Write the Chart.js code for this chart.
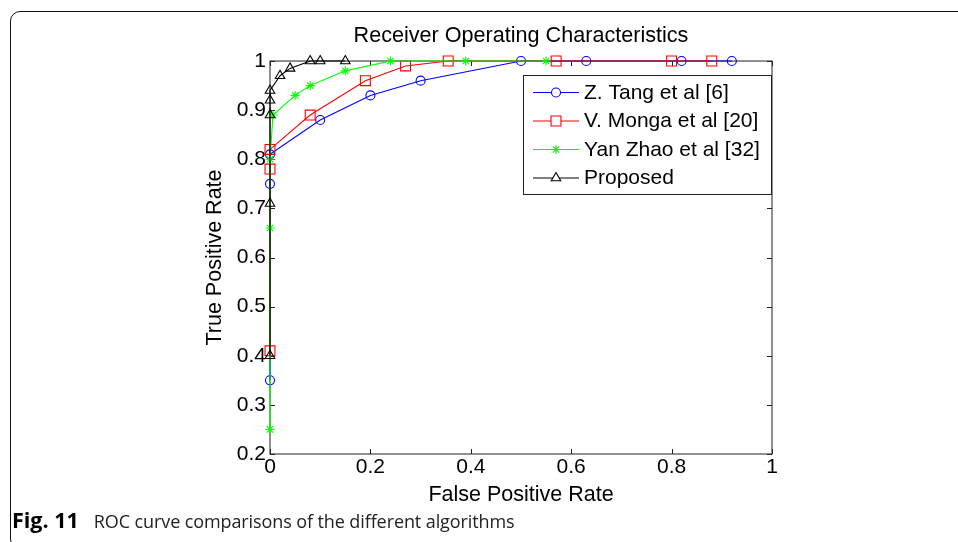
<!DOCTYPE html>
<html>
<head>
<meta charset="utf-8">
<script src="https://cdn.jsdelivr.net/npm/chart.js"></script>
<style>
  html, body { margin: 0; padding: 0; background: #fff; }
  body { width: 958px; height: 542px; position: relative; overflow: hidden; }
  #frame {
    position: absolute; left: 10px; top: 11px; width: 1000px; height: 536px;
    border: 1.3px solid #111; border-radius: 10px;
  }
  #chart { position: absolute; left: 0; top: 0; }
  #caption {
    position: absolute; left: 12px; top: 509px;
    font-family: "Open Sans", "Noto Sans", sans-serif; font-size: 18px; line-height: 22px;
    color: #222; white-space: nowrap; letter-spacing: -0.1px;
  }
  #caption b { color: #000; font-weight: 700; font-size: 21.5px; margin-right: 15px; letter-spacing: 0; }
</style>
</head>
<body>
<div id="frame"></div>
<canvas id="chart" width="958" height="542"></canvas>
<div id="caption"><b>Fig. 11</b>ROC curve comparisons of the different algorithms</div>
<script>
// values
const seriesNames = ['Z. Tang et al [6]', 'V. Monga et al [20]', 'Yan Zhao et al [32]', 'Proposed'];

const tangX = [0, 0, 0, 0.1, 0.2, 0.3, 0.5, 0.63, 0.82, 0.92];
const tangY = [0.35, 0.75, 0.81, 0.88, 0.93, 0.96, 1, 1, 1, 1];

const mongaX = [0, 0, 0, 0.08, 0.19, 0.27, 0.355, 0.57, 0.80, 0.88];
const mongaY = [0.41, 0.78, 0.82, 0.89, 0.96, 0.99, 1, 1, 1, 1];

const zhaoX = [0, 0, 0, 0.006, 0.05, 0.08, 0.15, 0.24, 0.39, 0.55];
const zhaoY = [0.25, 0.66, 0.80, 0.89, 0.93, 0.95, 0.98, 1, 1, 1];

const proposedX = [0, 0, 0, 0, 0, 0.02, 0.04, 0.08, 0.1, 0.15];
const proposedY = [0.40, 0.71, 0.89, 0.92, 0.94, 0.97, 0.985, 1, 1, 1];

const xTicks = [0, 0.2, 0.4, 0.6, 0.8, 1];
const xTickLabels = ['0', '0.2', '0.4', '0.6', '0.8', '1'];
const yTicks = [0.2, 0.3, 0.4, 0.5, 0.6, 0.7, 0.8, 0.9, 1];
const yTickLabels = ['0.2', '0.3', '0.4', '0.5', '0.6', '0.7', '0.8', '0.9', '1'];

const FONT = '"Liberation Sans", Arial, sans-serif';

const toPoints = (xs, ys) => xs.map((x, i) => ({ x: x, y: ys[i] }));

const styles = [
  { color: '#0000ff', pointStyle: 'circle', radius: 4.5 },
  { color: '#ff0000', pointStyle: 'rect', radius: 7 },
  { color: '#00ff00', pointStyle: 'star', radius: 4.5 },
  { color: '#000000', pointStyle: 'triangle', radius: 5.5 },
];
const allData = [toPoints(tangX, tangY), toPoints(mongaX, mongaY), toPoints(zhaoX, zhaoY), toPoints(proposedX, proposedY)];

const datasets = allData.map((d, i) => ({
  label: seriesNames[i],
  data: d,
  showLine: true,
  borderColor: styles[i].color,
  borderWidth: 1.1,
  pointStyle: styles[i].pointStyle,
  pointRadius: styles[i].radius,
  pointBorderColor: styles[i].color,
  pointBackgroundColor: 'rgba(0,0,0,0)',
  pointBorderWidth: 1.1,
  clip: false,
  order: 4 - i, // later series on top, like matlab
}));

// matlab style box, inward ticks and the legend inside the axes
const matlabBox = {
  id: 'matlabBox',
  beforeDatasetsDraw(chart) {
    const { ctx, chartArea: a, scales } = chart;
    ctx.save();
    ctx.strokeStyle = '#222';
    ctx.lineWidth = 1;
    ctx.strokeRect(a.left, a.top, a.right - a.left, a.bottom - a.top);
    const tl = 5;
    ctx.beginPath();
    xTicks.forEach(v => {
      const px = Math.round(scales.x.getPixelForValue(v)) + 0.5;
      ctx.moveTo(px, a.bottom); ctx.lineTo(px, a.bottom - tl);
      ctx.moveTo(px, a.top); ctx.lineTo(px, a.top + tl);
    });
    yTicks.forEach(v => {
      const py = Math.round(scales.y.getPixelForValue(v)) + 0.5;
      ctx.moveTo(a.left, py); ctx.lineTo(a.left + tl, py);
      ctx.moveTo(a.right, py); ctx.lineTo(a.right - tl, py);
    });
    ctx.stroke();
    ctx.restore();
  },
  afterDatasetsDraw(chart) {
    const { ctx } = chart;
    const box = { left: 523, top: 75, right: 772, bottom: 195 };
    ctx.save();
    ctx.fillStyle = '#fff';
    ctx.fillRect(box.left, box.top, box.right - box.left, box.bottom - box.top);
    ctx.strokeStyle = '#222';
    ctx.lineWidth = 1;
    ctx.strokeRect(box.left + 0.5, box.top + 0.5, box.right - box.left - 1, box.bottom - box.top - 1);
    ctx.font = '21px ' + FONT;
    ctx.textBaseline = 'middle';
    const rowY = [92, 120.5, 149, 177.5];
    seriesNames.forEach((name, i) => {
      const y = rowY[i];
      ctx.strokeStyle = styles[i].color;
      ctx.lineWidth = 1.1;
      ctx.beginPath();
      ctx.moveTo(533, y + 0.5); ctx.lineTo(579, y + 0.5);
      ctx.stroke();
      ctx.fillStyle = '#fff';
      Chart.helpers.drawPoint(ctx, {
        pointStyle: styles[i].pointStyle,
        radius: styles[i].radius,
        rotation: 0,
        borderWidth: 1.1,
      }, 556, y + 0.5);
      ctx.fillStyle = '#000';
      ctx.fillText(name, 584, y + 1);
    });
    ctx.restore();
  }
};

new Chart(document.getElementById('chart').getContext('2d'), {
  type: 'scatter',
  data: { datasets: datasets },
  options: {
    responsive: false,
    animation: false,
    devicePixelRatio: 1,
    layout: { padding: { left: 202, right: 186, top: 0, bottom: 34 } },
    plugins: {
      legend: { display: false },
      tooltip: { enabled: false },
      title: {
        display: true,
        text: 'Receiver Operating Characteristics',
        color: '#000',
        font: { family: FONT, size: 21.6, weight: 'normal' },
        padding: { top: 23.5, bottom: 11.6 },
        fullSize: false,
      },
    },
    scales: {
      x: {
        type: 'linear', min: 0, max: 1,
        grid: { display: false, drawTicks: false },
        border: { display: false },
        afterBuildTicks: s => { s.ticks = xTicks.map(v => ({ value: v })); },
        afterFit: s => { s.height = 54; },
        ticks: {
          color: '#000', padding: 1, maxRotation: 0, autoSkip: false,
          font: { family: FONT, size: 21 },
          callback: v => xTickLabels[xTicks.indexOf(v)],
        },
        title: { display: true, text: 'False Positive Rate', color: '#000', padding: 0, font: { family: FONT, size: 21.5 } },
      },
      y: {
        type: 'linear', min: 0.2, max: 1,
        grid: { display: false, drawTicks: false },
        border: { display: false },
        afterBuildTicks: s => { s.ticks = yTicks.map(v => ({ value: v })); },
        afterFit: s => { s.width = 68; },
        ticks: {
          color: '#000', padding: 4, autoSkip: false,
          font: { family: FONT, size: 21 },
          callback: v => yTickLabels[yTicks.indexOf(v)],
        },
        title: { display: true, text: 'True Positive Rate', color: '#000', padding: 0, font: { family: FONT, size: 21.5 } },
      },
    },
  },
  plugins: [matlabBox],
});
</script>
</body>
</html>
